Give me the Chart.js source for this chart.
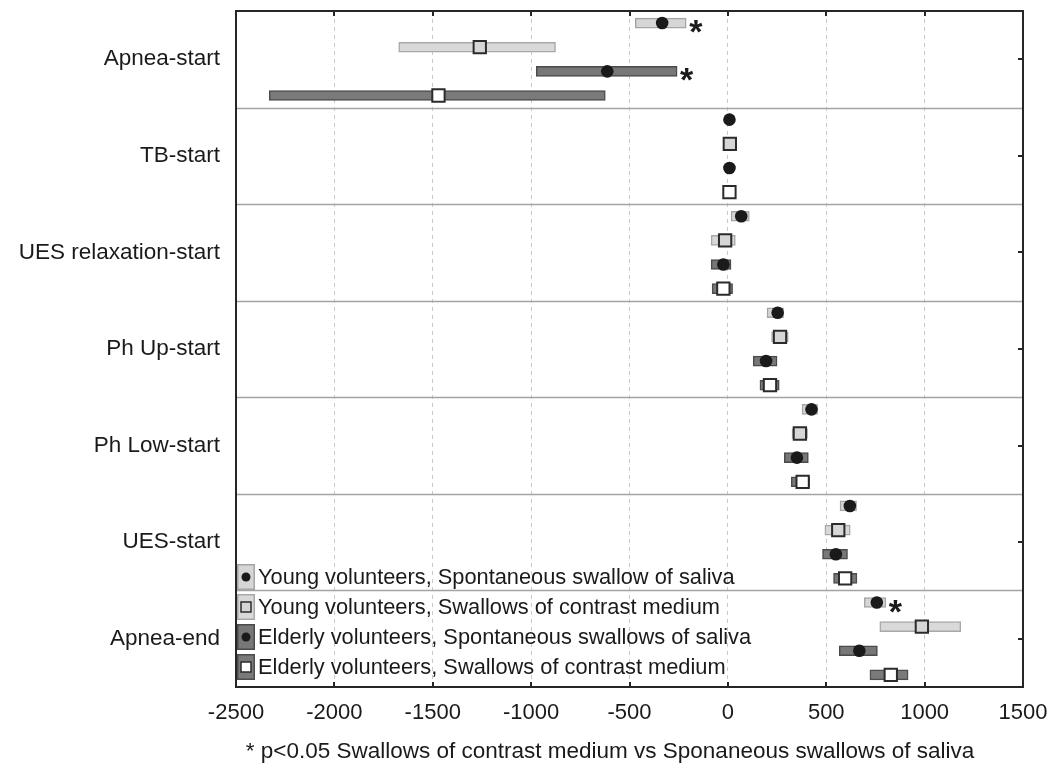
<!DOCTYPE html>
<html>
<head>
<meta charset="utf-8">
<script src="https://cdn.jsdelivr.net/npm/chart.js@4"></script>
<style>
  body { margin: 0; background: #fff; overflow: hidden; }
  canvas { display: block; }
</style>
</head>
<body>
<canvas id="myChart" width="1050" height="768"></canvas>
<script>
const ctx = document.getElementById('myChart');

// phases (one group of 4 rows each)
const categories = ['Apnea-start', 'TB-start', 'UES relaxation-start', 'Ph Up-start', 'Ph Low-start', 'UES-start', 'Apnea-end'];
const seriesNames = [
    'Young volunteers, Spontaneous swallow of saliva',
    'Young volunteers, Swallows of contrast medium',
    'Elderly volunteers, Spontaneous swallows of saliva',
    'Elderly volunteers, Swallows of contrast medium'
];
const xTicks = [-2500, -2000, -1500, -1000, -500, 0, 500, 1000, 1500];

// time in ms: min, max, median per phase
const youngSalivaMin = [-471, 4, 16, 199, 377, 570, 693];
const youngSalivaMax = [-212, 12, 109, 283, 456, 654, 803];
const youngSalivaMed = [-334, 8, 68, 253, 425, 620, 757];

const youngContrastMin = [-1673, -5, -85, 222, 326, 493, 772];
const youngContrastMax = [-876, 25, 38, 307, 405, 622, 1184];
const youngContrastMed = [-1261, 10, -14, 265, 366, 561, 986];

const elderlySalivaMin = [-974, 4, -85, 129, 287, 481, 566];
const elderlySalivaMax = [-258, 12, 16, 250, 409, 608, 760];
const elderlySalivaMed = [-613, 8, -23, 194, 351, 549, 668];

const elderlyContrastMin = [-2331, 2, -80, 163, 322, 537, 722];
const elderlyContrastMax = [-623, 16, 24, 261, 415, 656, 916];
const elderlyContrastMed = [-1471, 8, -23, 214, 380, 596, 828];

// * p<0.05 contrast vs saliva (flag shown on the saliva row)
const youngSalivaSig = [true, false, false, false, false, false, true];
const elderlySalivaSig = [true, false, false, false, false, false, false];

const mins = [youngSalivaMin, youngContrastMin, elderlySalivaMin, elderlyContrastMin];
const maxs = [youngSalivaMax, youngContrastMax, elderlySalivaMax, elderlyContrastMax];
const meds = [youngSalivaMed, youngContrastMed, elderlySalivaMed, elderlyContrastMed];
const sigs = [youngSalivaSig, null, elderlySalivaSig, null];

const barFill = ['#d6d6d6', '#d9d9d9', '#777777', '#7a7a7a'];
const barEdge = ['#a5a5a5', '#a8a8a8', '#4a4a4a', '#4d4d4d'];
const markFill = ['#1a1a1a', '#d6d6d6', '#1a1a1a', '#ffffff'];
const isSaliva = [true, false, true, false];

const FONT = 'Liberation Sans, Arial, sans-serif';

function rowOf(cat, s) {
    return cat * 4 + s + 0.5;
}

var datasets = [];
for (var s = 0; s < 4; s++) {
    datasets.push({
        type: 'scatter',
        label: seriesNames[s] + ' median',
        data: categories.map((c, i) => ({ x: meds[s][i], y: rowOf(i, s) })),
        pointStyle: isSaliva[s] ? 'circle' : 'rect',
        pointRadius: isSaliva[s] ? 6.3 : 8.7,
        pointBackgroundColor: markFill[s],
        pointBorderColor: isSaliva[s] ? '#1a1a1a' : '#2b2b2b',
        pointBorderWidth: isSaliva[s] ? 0 : 2,
        order: 0
    });
}
for (var s = 0; s < 4; s++) {
    datasets.push({
        type: 'bar',
        label: seriesNames[s],
        indexAxis: 'y',
        grouped: false,
        data: categories.map((c, i) => ({ x: [mins[s][i], maxs[s][i]], y: rowOf(i, s) })),
        backgroundColor: barFill[s],
        borderColor: barEdge[s],
        borderWidth: 1.5,
        borderSkipped: false,
        barThickness: 10,
        order: 1
    });
}

const framePlugin = {
    id: 'frame',
    beforeDatasetsDraw(chart) {
        const c = chart.ctx, a = chart.chartArea, y = chart.scales.y;
        c.save();
        c.strokeStyle = '#a3a3a3';
        c.lineWidth = 1.5;
        for (var i = 1; i < categories.length; i++) {
            const py = Math.round(y.getPixelForValue(i * 4)) + 0.5;
            c.beginPath();
            c.moveTo(a.left, py);
            c.lineTo(a.right, py);
            c.stroke();
        }
        c.restore();
    },
    afterDraw(chart) {
        const c = chart.ctx, a = chart.chartArea, x = chart.scales.x, y = chart.scales.y;
        c.save();
        // asterisks
        c.fillStyle = '#1a1a1a';
        c.font = 'bold 34px ' + FONT;
        c.textAlign = 'left';
        c.textBaseline = 'alphabetic';
        for (var s = 0; s < 4; s++) {
            if (!sigs[s]) continue;
            for (var i = 0; i < categories.length; i++) {
                if (sigs[s][i]) {
                    c.fillText('*', x.getPixelForValue(maxs[s][i]) + 3, y.getPixelForValue(rowOf(i, s)) + 20);
                }
            }
        }

        // legend inside plot, bottom left
        const lx = a.left + 1, lw = 18, lh = 26;
        for (var s = 0; s < 4; s++) {
            const cy = a.bottom - 20 - (3 - s) * 30;
            c.fillStyle = barFill[s];
            c.strokeStyle = barEdge[s];
            c.lineWidth = 1.5;
            c.fillRect(lx, cy - lh / 2, lw, lh);
            c.strokeRect(lx + 0.75, cy - lh / 2 + 0.75, lw - 1.5, lh - 1.5);
            if (isSaliva[s]) {
                c.fillStyle = '#1a1a1a';
                c.beginPath();
                c.arc(lx + lw / 2, cy, 4.5, 0, Math.PI * 2);
                c.fill();
            } else {
                c.fillStyle = markFill[s];
                c.strokeStyle = '#2b2b2b';
                c.lineWidth = 1.5;
                c.fillRect(lx + lw / 2 - 5, cy - 5, 10, 10);
                c.strokeRect(lx + lw / 2 - 5, cy - 5, 10, 10);
            }
            c.fillStyle = '#1a1a1a';
            c.font = '21.8px ' + FONT;
            c.textAlign = 'left';
            c.textBaseline = 'middle';
            c.fillText(seriesNames[s], lx + lw + 3, cy + 1);
        }

        // frame and inward ticks
        c.strokeStyle = '#262626';
        c.lineWidth = 2;
        c.strokeRect(a.left, a.top, a.right - a.left, a.bottom - a.top);
        c.beginPath();
        xTicks.forEach(v => {
            const px = Math.round(x.getPixelForValue(v));
            c.moveTo(px, a.top); c.lineTo(px, a.top + 5);
            c.moveTo(px, a.bottom); c.lineTo(px, a.bottom - 5);
        });
        for (var i = 0; i < categories.length; i++) {
            const py = Math.round(y.getPixelForValue(i * 4 + 2));
            c.moveTo(a.right, py); c.lineTo(a.right - 5, py);
        }
        c.stroke();

        // footnote
        c.fillStyle = '#1a1a1a';
        c.font = '22.5px ' + FONT;
        c.textAlign = 'center';
        c.textBaseline = 'middle';
        c.fillText('* p<0.05 Swallows of contrast medium vs Sponaneous swallows of saliva', 610, 752);
        c.restore();
    }
};

new Chart(ctx, {
    type: 'bar',
    data: { datasets: datasets },
    options: {
        responsive: false,
        animation: false,
        indexAxis: 'y',
        layout: { autoPadding: false, padding: { top: 11, right: 27, left: 0, bottom: 0 } },
        plugins: {
            legend: { display: false },
            tooltip: { enabled: false }
        },
        scales: {
            x: {
                type: 'linear',
                min: -2500,
                max: 1500,
                offset: false,
                afterBuildTicks: (scale) => { scale.ticks = xTicks.map(v => ({ value: v })); },
                afterFit: (scale) => {
                    scale.height = 81;
                    scale.paddingLeft = 0;
                    scale.paddingRight = 0;
                },
                ticks: {
                    color: '#1a1a1a',
                    font: { family: FONT, size: 22 },
                    padding: 13,
                    maxRotation: 0,
                    callback: (v) => String(v)
                },
                grid: { color: '#c9c9c9', lineWidth: 1, drawTicks: false, offset: false },
                border: { display: false, dash: [4, 4] }
            },
            y: {
                type: 'linear',
                min: 0,
                max: 28,
                reverse: true,
                offset: false,
                afterBuildTicks: (scale) => { scale.ticks = categories.map((c, i) => ({ value: i * 4 + 2 })); },
                afterFit: (scale) => {
                    scale.width = 236;
                    scale.paddingTop = 0;
                    scale.paddingBottom = 0;
                },
                ticks: {
                    color: '#1a1a1a',
                    font: { family: FONT, size: 22.5 },
                    padding: 16,
                    callback: (v) => categories[Math.round((v - 2) / 4)]
                },
                grid: { display: false, drawTicks: false, offset: false },
                border: { display: false }
            }
        }
    },
    plugins: [framePlugin]
});
</script>
</body>
</html>
